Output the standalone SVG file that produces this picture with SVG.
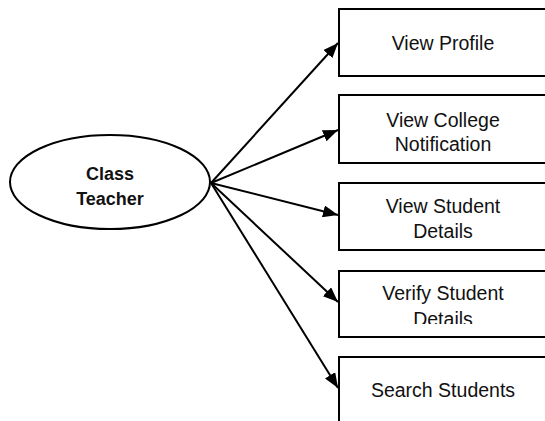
<svg xmlns="http://www.w3.org/2000/svg" width="545" height="421" viewBox="0 0 545 421">
<style>
.box{fill:#fff;stroke:#000;stroke-width:2}
.lbl{font-family:"Liberation Sans",Arial,sans-serif;font-size:19.5px;fill:#111;text-anchor:middle}
.actor{font-family:"Liberation Sans",Arial,sans-serif;font-size:18px;font-weight:bold;fill:#111;text-anchor:middle}
.conn{stroke:#000;stroke-width:2;fill:none;marker-end:url(#ah)}
</style>
<defs>
<marker id="ah" markerUnits="userSpaceOnUse" markerWidth="16" markerHeight="12" refX="15" refY="6" orient="auto">
<path d="M0,0 L15,6 L0,12 Z" fill="#000"/>
</marker>
<clipPath id="clip4"><rect x="339" y="271" width="210" height="53"/></clipPath>
</defs>
<rect width="545" height="421" fill="#fff"/>
<g id="connectors">
<line class="conn" x1="211" y1="183" x2="338" y2="43"/>
<line class="conn" x1="211" y1="183" x2="338" y2="130"/>
<line class="conn" x1="211" y1="183" x2="338" y2="215"/>
<line class="conn" x1="211" y1="183" x2="338" y2="302"/>
<line class="conn" x1="211" y1="183" x2="338" y2="388"/>
</g>
<g id="class-teacher">
<ellipse cx="110" cy="182" rx="100" ry="47" fill="#fff" stroke="#000" stroke-width="2"/>
<text class="actor" x="110" y="180">Class</text>
<text class="actor" x="110" y="205">Teacher</text>
</g>
<g id="view-profile">
<rect class="box" x="339" y="9" width="220" height="67"/>
<text class="lbl" x="443" y="50">View Profile</text>
</g>
<g id="view-college-notification">
<rect class="box" x="339" y="95" width="220" height="68"/>
<text class="lbl" x="443" y="127">View College</text>
<text class="lbl" x="443" y="151">Notification</text>
</g>
<g id="view-student-details">
<rect class="box" x="339" y="183" width="220" height="67"/>
<text class="lbl" x="443" y="213">View Student</text>
<text class="lbl" x="443" y="238">Details</text>
</g>
<g id="verify-student-details">
<rect class="box" x="339" y="271" width="220" height="66"/>
<g clip-path="url(#clip4)">
<text class="lbl" x="443" y="300">Verify Student</text>
<text class="lbl" x="443" y="326">Details</text>
</g>
</g>
<g id="search-students">
<rect class="box" x="339" y="357" width="220" height="100"/>
<text class="lbl" x="443" y="397">Search Students</text>
</g>
</svg>
